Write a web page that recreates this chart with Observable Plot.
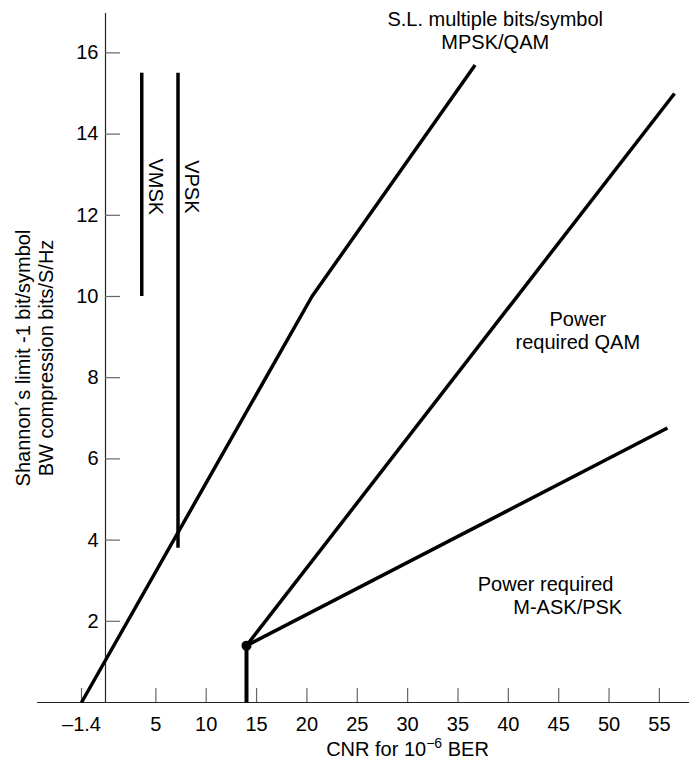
<!DOCTYPE html>
<html>
<head>
<meta charset="utf-8">
<script src="https://cdn.jsdelivr.net/npm/d3@7"></script>
<script src="https://cdn.jsdelivr.net/npm/@observablehq/plot@0.6"></script>
<style>
  html, body { margin: 0; padding: 0; background: #fff; }
</style>
</head>
<body>
<div id="chart"></div>
<script>
// ---- tick values ----
const xTicks = [-1.4, 5, 10, 15, 20, 25, 30, 35, 40, 45, 50, 55];
const yTicks = [2, 4, 6, 8, 10, 12, 14, 16];

// ---- series (CNR dB, bits/S/Hz) ----
// Shannon limit, multiple bits/symbol MPSK/QAM
const slCNR  = [-1.4, 20.5, 36.7];
const slBits = [0, 10, 15.7];
// Power required QAM
const qamCNR  = [14, 56.5];
const qamBits = [1.4, 15.0];
// Power required M-ASK/PSK
const askCNR  = [14, 55.8];
const askBits = [1.4, 6.76];
// threshold stem at 14 dB
const stemCNR  = [14, 14];
const stemBits = [0, 1.4];
// knee point
const kneeCNR = [14];
const kneeBits = [1.4];

// ---- VMSK / VPSK vertical bars ----
const vNames = ["VMSK", "VPSK"];
const vCNR   = [3.6, 7.2];
const vLow   = [10, 3.8];
const vHigh  = [15.5, 15.5];
const vLabelBits = [12.7, 12.7];

// ---- annotations ----
const annText = ["S.L. multiple bits/symbol\nMPSK/QAM", "Power\nrequired QAM", "Power required", "M-ASK/PSK"];
const annCNR  = [38.7, 46.9, 43.7, 45.9];
const annBits = [16.55, 9.17, 2.93, 2.36];

// ---- build tables ----
const lineData = [
  ...slCNR.map((c, i) => ({series: "SL", cnr: c, bits: slBits[i]})),
  ...qamCNR.map((c, i) => ({series: "QAM", cnr: c, bits: qamBits[i]})),
  ...askCNR.map((c, i) => ({series: "ASK", cnr: c, bits: askBits[i]}))
];
const stemData = stemCNR.map((c, i) => ({cnr: c, bits: stemBits[i]}));
const kneeData = kneeCNR.map((c, i) => ({cnr: c, bits: kneeBits[i]}));
const vData = vNames.map((n, i) => ({name: n, cnr: vCNR[i], low: vLow[i], high: vHigh[i], lab: vLabelBits[i]}));
const annData = annText.map((t, i) => ({text: t, cnr: annCNR[i], bits: annBits[i]}));

const FONT = "'Liberation Sans', Arial, Helvetica, sans-serif";

const chart = Plot.plot({
  width: 689,
  height: 762,
  marginTop: 13,
  marginBottom: 60,
  marginLeft: 105,
  marginRight: 0,
  style: {fontFamily: FONT, fontSize: "20px", color: "#000", background: "#fff", overflow: "visible"},
  x: {type: "linear", domain: [-1.4, 0, 56.5], range: [81, 105, 674]},
  y: {domain: [0, 16.97]},
  marks: [
    // axis lines
    Plot.ruleY([0], {stroke: "#222", strokeWidth: 1.2, insetLeft: -68}),
    Plot.ruleX([0], {stroke: "#222", strokeWidth: 1.2}),
    // tick marks (inward)
    Plot.axisX({ticks: xTicks, tickSize: -14, tickFormat: () => "", stroke: "#666", strokeWidth: 1.2, label: null}),
    Plot.axisY({ticks: yTicks, tickSize: -15, tickFormat: () => "", stroke: "#666", strokeWidth: 1.2, label: null}),
    // tick labels
    Plot.axisX({ticks: xTicks, tickSize: 0, tickPadding: 14, label: null,
      tickFormat: d => d < 0 ? "\u2013" + String(Math.abs(d)) : String(d), fill: "#000"}),
    Plot.axisY({ticks: yTicks, tickSize: 0, tickPadding: 7, label: null, fill: "#000"}),
    // axis titles
    Plot.text(["Shannon\u00b4s limit -1 bit/symbol\nBW compression bits/S/Hz"], {
      frameAnchor: "left", dx: -71.5, rotate: -90, textAnchor: "middle", lineAnchor: "middle",
      lineHeight: 1.15, fontSize: 20, fill: "#000"}),
    Plot.text(["CNR for 10-6 BER"], {
      frameAnchor: "bottom", dx: 10, dy: 47, textAnchor: "middle", lineAnchor: "middle",
      fontSize: 20, fill: "#000", className: "xlabel"}),
    // VMSK / VPSK bars
    Plot.ruleX(vData, {x: "cnr", y1: "low", y2: "high", stroke: "#000", strokeWidth: 3.5}),
    Plot.text(vData, {x: "cnr", y: "lab", text: "name", rotate: 90, dx: 13.5, textAnchor: "middle",
      lineAnchor: "middle", fontSize: 20, fill: "#000"}),
    // curves
    Plot.line(lineData, {x: "cnr", y: "bits", z: "series", stroke: "#000", strokeWidth: 3.5,
      strokeLinecap: "butt", strokeLinejoin: "miter"}),
    Plot.line(stemData, {x: "cnr", y: "bits", stroke: "#000", strokeWidth: 4, strokeLinecap: "butt"}),
    Plot.dot(kneeData, {x: "cnr", y: "bits", r: 5, fill: "#000", stroke: "none"}),
    // annotations
    Plot.text(annData, {x: "cnr", y: "bits", text: "text", textAnchor: "middle", lineAnchor: "middle",
      lineHeight: 1.15, fontSize: 20, fill: "#000"})
  ]
});

document.getElementById("chart").appendChild(chart);

// superscript in x-axis title
const lbl = d3.select(chart).select("g.xlabel text");
if (!lbl.empty()) {
  lbl.text(null);
  lbl.append("tspan").text("CNR for 10");
  lbl.append("tspan").attr("dy", -8).attr("font-size", 14).text("\u22126");
  lbl.append("tspan").attr("dy", 8).text(" BER");
}
</script>
</body>
</html>
